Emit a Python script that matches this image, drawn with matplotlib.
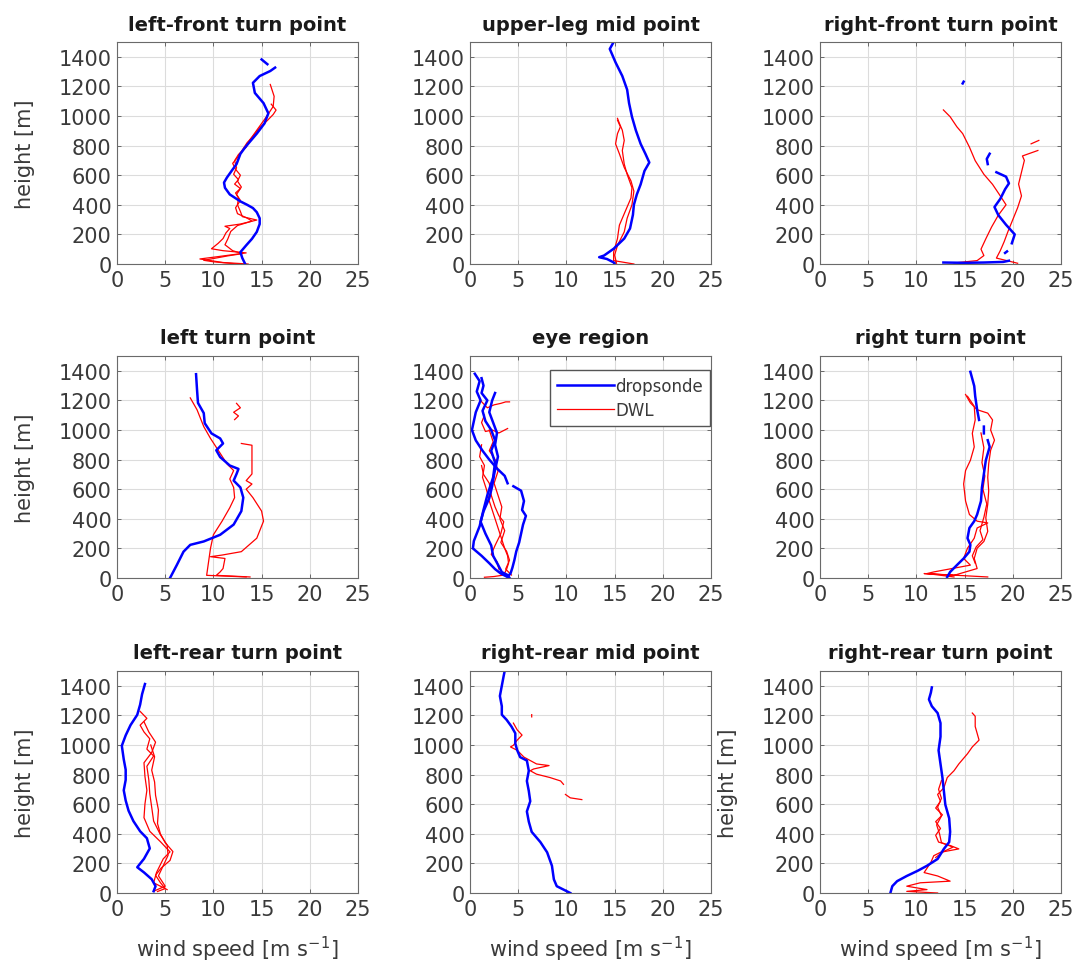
import numpy as np
import matplotlib.pyplot as plt

plt.rcParams["font.family"] = ["DejaVu Sans"]

# wind speed [m/s], height [m]; None breaks a profile into separate pieces
TITLES = [
    "left-front turn point", "upper-leg mid point", "right-front turn point",
    "left turn point", "eye region", "right turn point",
    "left-rear turn point", "right-rear mid point", "right-rear turn point",
]

# left-front turn point
lf_sonde = [(13.3, 0), (13.0, 40), (12.8, 80), (13.4, 126), (14.0, 170), (14.5, 217),
            (14.8, 270), (14.8, 309), (14.5, 350), (14.1, 378), (13.5, 400), (12.8, 423),
            (11.7, 470), (11.2, 515), (11.1, 550), (11.4, 584), (11.9, 630), (12.4, 675),
            (12.8, 744), (13.2, 780), (13.6, 812), (14.5, 881), (15.3, 950), (15.7, 1018),
            (15.2, 1087), (14.3, 1156), (14.1, 1224), (14.8, 1270), (15.9, 1304), (16.4, 1327),
            None, (15.6, 1350), (15.0, 1382)]
lf_dwl_a = [(13.6, 0), (11.0, 10), (8.6, 34), (10.5, 50), (13.4, 75), (11.0, 90), (9.8, 103),
            (10.5, 140), (11.0, 172), (11.3, 210), (11.7, 240), (11.2, 255), (12.8, 270),
            (14.5, 297), (13.0, 320), (12.8, 355), (12.5, 400), (12.6, 446), (12.3, 480),
            (12.8, 510), (12.2, 540), (12.6, 570), (12.1, 606), (12.4, 650), (12.2, 698),
            (12.6, 740), (13.4, 790), (13.8, 840), (14.5, 904), (15.5, 995), (16.2, 1064),
            (16.3, 1133), (15.9, 1213)]
lf_dwl_b = [(12.5, 0), (10.0, 15), (9.0, 25), (11.5, 55), (13.0, 70), (12.0, 90), (11.2, 130),
            (11.5, 170), (11.8, 220), (12.5, 260), (14.0, 290), (13.5, 310), (12.5, 340),
            (12.3, 380), (12.8, 430), (12.4, 470), (12.9, 520), (12.5, 560), (12.8, 600),
            (12.3, 640), (12.0, 680), (12.5, 720), (13.0, 770), (13.5, 820), (14.2, 870),
            (14.8, 920), (15.6, 970), (16.2, 1010), (16.5, 1040), (16.0, 1080)]

# upper-leg mid point
ul_sonde = [(15.0, 0), (14.9, 11), (14.2, 34), (13.4, 46), (13.9, 57), (14.9, 103), (16.0, 172),
            (16.6, 240), (16.9, 332), (17.0, 400), (17.3, 469), (17.7, 538), (18.1, 629),
            (18.6, 686), (18.2, 744), (17.7, 812), (17.2, 904), (16.8, 995), (16.5, 1087),
            (16.3, 1178), (15.8, 1270), (15.1, 1362), (14.5, 1453), (14.9, 1500)]
ul_dwl_a = [(17.0, 0), (14.9, 23), (14.9, 80), (15.3, 172), (15.4, 220), (15.5, 263), (16.1, 355),
            (16.7, 446), (16.8, 515), (16.3, 606), (16.0, 675), (15.8, 767), (16.0, 835),
            (15.8, 904), (15.5, 950), (15.3, 984)]
ul_dwl_b = [(15.2, 5), (15.0, 60), (15.3, 126), (16.0, 217), (16.3, 309), (16.8, 400),
            (17.0, 492), (16.7, 561), (16.0, 652), (15.5, 744), (15.1, 812), (15.3, 881),
            (15.6, 927), (15.3, 972)]

# right-front turn point
rf_sonde = [(14.8, 1220), (14.9, 1232), None, (17.6, 745), (17.3, 710), (17.4, 675), None,
            (18.3, 620), (19.3, 590), (19.6, 545), (19.2, 505), (18.7, 440), (18.1, 385),
            (18.5, 330), (19.3, 265), (20.2, 200), (19.9, 140), None, (19.4, 85), (19.2, 75),
            None, (12.8, 10), (15.0, 8), (17.0, 10), (19.0, 14), (19.6, 22)]
rf_dwl_a = [(12.8, 1041), (13.5, 995), (14.2, 927), (14.8, 881), (15.5, 790), (16.1, 698),
            (17.0, 606), (17.9, 538), (18.6, 470), (19.3, 400), (18.5, 330), (17.8, 250),
            (17.2, 170), (16.7, 100), (17.0, 57), (16.3, 23), (13.9, 7)]
rf_dwl_b = [(21.9, 812), (22.7, 835), None, (22.6, 767), (21.0, 730), (21.2, 700), (20.9, 620),
            (20.6, 540), (20.9, 460), (20.5, 380), (20.0, 300), (19.5, 220), (19.1, 150),
            (18.7, 90), (18.3, 40), (20.5, 5)]

# left turn point
lt_sonde = [(5.5, 0), (6.2, 87), (6.9, 178), (7.6, 224), (9.0, 247), (10.7, 292), (12.1, 361),
            (12.9, 452), (13.1, 543), (12.8, 612), (12.1, 658), (12.4, 703), (12.6, 737),
            (11.7, 760), (10.7, 817), (10.3, 863), (11.0, 909), (10.7, 943), (9.8, 977),
            (9.1, 1046), (9.0, 1114), (8.4, 1183), (8.3, 1274), (8.2, 1377)]
lt_dwl_a = [(7.6, 1217), (8.3, 1137), (9.0, 1023), (9.7, 943), (10.5, 863), (11.4, 772),
            (12.1, 726), (11.7, 669), (12.1, 612), (12.2, 543), (11.7, 475), (10.9, 384),
            (10.0, 292), (9.7, 201), (9.5, 110), (9.3, 18), (13.4, 7)]
lt_dwl_b = [(12.9, 909), (14.0, 897), (14.0, 795), (14.0, 703), (13.4, 658), (14.0, 635),
            (13.4, 600), (14.1, 543), (15.0, 452), (15.2, 384), (14.5, 269), (12.9, 178),
            (10.9, 155), (9.7, 144), (11.2, 132), (11.0, 64), (10.7, 41), (10.3, 18), (13.8, 7)]
lt_dwl_c = [(12.4, 1180), (12.8, 1150), (12.1, 1120), (12.6, 1095), (12.2, 1070)]

# eye region
ey_sonde_a = [(0.5, 1380), (1.0, 1330), (0.7, 1260), (1.1, 1200), (0.6, 1120), (0.2, 1000),
              (0.6, 930), (1.3, 860), (2.0, 800), (2.8, 740), (3.6, 690), (3.9, 640)]
ey_sonde_b = [(1.2, 1350), (1.4, 1300), (1.2, 1250), (1.8, 1200), (1.3, 1130), (1.6, 1060),
              (2.2, 1000), (2.6, 930), (2.2, 860), (2.6, 780), (2.4, 680), (1.8, 560),
              (1.4, 460), (1.0, 350), (0.4, 250), (0.3, 200), (1.2, 150), (2.0, 100),
              (2.6, 60), (3.2, 30), (3.8, 10)]
ey_sonde_c = [(2.6, 1250), (2.3, 1200), (2.0, 1120), (2.4, 1050), (2.8, 980), (2.6, 900),
              (2.9, 820), (2.5, 700), (2.3, 620), (2.0, 540), (1.4, 450), (1.1, 380),
              (1.6, 300), (2.2, 220), (2.4, 150), (2.9, 90), (3.3, 40), (3.9, 20), (4.1, 0)]
ey_sonde_d = [(4.5, 620), (5.3, 590), (5.6, 520), (5.4, 460), (5.8, 420), (5.5, 360),
              (5.3, 300), (5.1, 240), (4.8, 180), (4.6, 120), (4.4, 70), (4.2, 30), (3.9, 10)]
ey_dwl_a = [(1.0, 1205), (1.8, 1150), (2.5, 1170), (3.2, 1180), (3.7, 1190), (4.1, 1190)]
ey_dwl_b = [(1.5, 1100), (1.2, 1050), (1.6, 990), (2.3, 1000), (3.0, 980), (3.6, 1000),
            (3.9, 1010)]
ey_dwl_c = [(1.2, 900), (1.0, 820), (1.5, 760), (1.3, 680), (1.7, 600), (2.0, 520), (2.4, 440),
            (2.7, 380), (3.0, 320), (3.3, 260), (3.6, 200), (3.9, 150), (4.0, 100),
            (3.8, 60), (3.5, 20), (2.5, 10), (1.5, 5)]
ey_dwl_d = [(2.0, 1000), (2.4, 920), (2.0, 860), (2.6, 800), (2.9, 720), (2.5, 640),
            (2.9, 560), (3.3, 480), (3.1, 400), (3.6, 320), (3.2, 240), (3.8, 180),
            (4.1, 120), (3.7, 60), (4.3, 20)]
ey_dwl_e = [(1.2, 760), (1.4, 700), (2.0, 640), (2.2, 560), (2.6, 480), (3.0, 420), (3.5, 380),
            (3.2, 300), (2.6, 220), (2.2, 160), (2.8, 110), (3.0, 60)]

# right turn point
rt_sonde = [(15.6, 1393), (16.0, 1297), (16.1, 1228), (16.3, 1137), (16.5, 1068), None,
            (17.0, 1023), (17.0, 977), None, (17.4, 931), (17.6, 886), (17.2, 795),
            (17.0, 703), (16.8, 612), (16.7, 520), (16.3, 429), (16.0, 384), (15.5, 338),
            (15.3, 269), (15.6, 224), (15.5, 178), (14.9, 132), (14.2, 87), (13.5, 41),
            (13.2, 7)]
rt_dwl_a = [(15.1, 1240), (15.6, 1183), (16.3, 1137), (17.4, 1114), (17.9, 1068), (17.7, 1000),
            (18.1, 931), (17.7, 863), (17.5, 772), (17.4, 680), (17.5, 589), (17.4, 498),
            (17.2, 406), (17.4, 315), (17.0, 247), (16.3, 201), (16.0, 132), (16.3, 64),
            (13.9, 18), (10.8, 30), (17.4, 7)]
rt_dwl_b = [(15.3, 1228), (16.0, 1160), (16.1, 1068), (15.8, 977), (16.0, 886), (15.6, 795),
            (15.1, 726), (14.9, 635), (15.1, 520), (15.5, 429), (16.3, 384), (17.4, 372),
            (16.3, 338), (16.0, 269), (15.3, 201), (14.9, 132), (15.6, 87), (11.8, 41),
            (11.1, 30), (13.9, 7)]
rt_dwl_c = [(16.7, 980), (17.0, 880), (16.8, 780), (17.1, 690), (16.9, 600), (17.3, 500),
            (17.0, 410), (16.6, 320), (16.9, 260), (16.2, 210), (15.8, 150), (16.1, 100)]

# left-rear turn point
lr_sonde = [(2.9, 1412), (2.6, 1343), (2.4, 1273), (2.1, 1204), (1.4, 1134), (0.9, 1065),
            (0.5, 995), (0.7, 903), (0.9, 833), (0.9, 764), (0.7, 694), (0.9, 625),
            (1.2, 556), (1.7, 486), (2.4, 417), (3.1, 370), (3.4, 301), (2.8, 231),
            (2.1, 174), (2.8, 139), (3.6, 93), (4.0, 46), (3.8, 12)]
lr_dwl_a = [(2.4, 1227), (3.1, 1180), (2.4, 1134), (2.8, 1088), (3.4, 1042), (3.1, 972),
            (3.8, 926), (3.1, 856), (3.3, 764), (3.4, 671), (3.6, 579), (3.8, 486),
            (4.5, 394), (5.2, 324), (5.3, 255), (4.8, 185), (4.3, 116), (5.0, 46), (3.8, 12)]
lr_dwl_b = [(2.8, 1157), (3.3, 1088), (4.0, 1019), (3.6, 949), (2.8, 880), (2.9, 787),
            (3.1, 694), (2.9, 602), (2.8, 509), (3.4, 417), (4.5, 347), (5.5, 278),
            (4.8, 231), (4.1, 139), (3.8, 69), (5.2, 23)]
lr_dwl_c = [(3.5, 1000), (3.9, 920), (3.6, 830), (3.9, 750), (4.0, 660), (4.3, 560),
            (4.2, 470), (4.5, 400), (5.0, 340), (5.8, 280), (5.5, 220), (4.6, 170),
            (4.0, 120), (4.5, 70), (5.0, 30), (4.2, 10)]

# right-rear mid point
rm_sonde = [(10.4, 0), (9.7, 23), (9.0, 46), (8.7, 92), (8.5, 184), (8.0, 275), (7.3, 344),
            (6.4, 413), (6.1, 482), (5.9, 551), (6.25, 620), (6.1, 689), (5.9, 757),
            (6.1, 826), (5.9, 895), (5.2, 918), (4.9, 964), (4.7, 1010), (4.7, 1079),
            (4.3, 1125), (3.8, 1170), (3.3, 1205), (3.3, 1262), (3.1, 1331), (3.3, 1400),
            (3.5, 1469), (3.6, 1500)]
rm_dwl_a = [(4.5, 1148), (4.9, 1102), (5.4, 1067), (4.9, 1033), (4.5, 998), (4.2, 987),
            (4.9, 964), (5.6, 918), (6.25, 895), (6.9, 872), (8.2, 861), (6.6, 838),
            (6.25, 826), (6.9, 803), (8.3, 780), (9.4, 757), (9.7, 734)]
rm_dwl_b = [(9.9, 666), (10.4, 643), (11.6, 631), None, (6.4, 1205), (6.4, 1190)]

# right-rear turn point
rr_sonde = [(7.3, 0), (7.5, 46), (8.0, 80), (9.0, 115), (10.1, 149), (11.1, 184), (12.2, 230),
            (12.85, 298), (13.4, 344), (13.5, 413), (13.4, 505), (13.0, 597), (12.85, 689),
            (12.7, 780), (12.5, 872), (12.3, 964), (12.5, 1056), (12.5, 1148), (12.2, 1216),
            (11.6, 1262), (11.3, 1308), (11.5, 1354), (11.6, 1389)]
rr_dwl_a = [(15.8, 1216), (16.1, 1194), (16.1, 1125), (16.3, 1079), (16.5, 1033), (15.8, 987),
            (15.3, 941), (14.4, 872), (13.9, 826), (13.2, 780), (12.85, 711), (12.2, 666),
            (12.5, 620), (12.0, 574), (12.7, 528), (12.0, 482), (12.5, 436), (12.0, 390),
            (12.3, 344), (13.5, 321), (14.4, 298), (12.5, 275), (11.8, 252), (11.5, 207),
            (10.8, 138), (12.2, 115), (13.5, 80), (10.4, 69), (9.0, 46), (11.1, 23),
            (9.0, 11), (12.2, 0)]
rr_dwl_b = [(12.6, 760), (12.3, 700), (12.6, 640), (12.2, 580), (12.6, 520), (12.1, 460),
            (12.4, 400), (12.6, 340), (13.8, 310), (12.8, 280), (12.0, 240)]

SONDES = [[lf_sonde], [ul_sonde], [rf_sonde],
          [lt_sonde], [ey_sonde_a, ey_sonde_b, ey_sonde_c, ey_sonde_d], [rt_sonde],
          [lr_sonde], [rm_sonde], [rr_sonde]]
DWLS = [[lf_dwl_a, lf_dwl_b], [ul_dwl_a, ul_dwl_b], [rf_dwl_a, rf_dwl_b],
        [lt_dwl_a, lt_dwl_b, lt_dwl_c], [ey_dwl_a, ey_dwl_b, ey_dwl_c, ey_dwl_d, ey_dwl_e],
        [rt_dwl_a, rt_dwl_b, rt_dwl_c],
        [lr_dwl_a, lr_dwl_b, lr_dwl_c], [rm_dwl_a, rm_dwl_b], [rr_dwl_a, rr_dwl_b]]


def profile(points):
    """Turn a list of (speed, height) pairs into arrays, None -> gap."""
    u = [np.nan if p is None else p[0] for p in points]
    z = [np.nan if p is None else p[1] for p in points]
    return np.array(u), np.array(z)


TEXT = "#3a3a3a"
fig = plt.figure(figsize=(10.78, 9.7), dpi=100)
lefts = [117 / 1078, 470 / 1078, 820 / 1078]
bottoms = [705 / 970, 391 / 970, 76 / 970]
width, height = 241 / 1078, 222 / 970

for k, title in enumerate(TITLES):
    row, col = divmod(k, 3)
    ax = fig.add_axes([lefts[col], bottoms[row], width, height])
    for prof in DWLS[k]:
        u, z = profile(prof)
        ax.plot(u, z, color="red", lw=0.9, label="DWL")
    for prof in SONDES[k]:
        u, z = profile(prof)
        ax.plot(u, z, color="blue", lw=1.8, label="dropsonde")
    ax.set_xlim(0, 25)
    ax.set_ylim(0, 1500)
    ax.set_xticks(np.arange(0, 26, 5))
    ax.set_yticks(np.arange(0, 1401, 200))
    ax.grid(True, color="#dcdcdc", lw=0.8)
    ax.set_axisbelow(True)
    ax.tick_params(direction="in", top=True, right=True, length=3, width=0.6,
                   color="#555555", labelsize=15, labelcolor=TEXT, pad=4)
    for s in ax.spines.values():
        s.set_color("#6a6a6a")
        s.set_linewidth(0.8)
    ax.set_title(title, fontsize=14, fontweight="bold", color="#1a1a1a", pad=9)
    if col == 0 or k == 8:
        ax.set_ylabel("height [m]", fontsize=15, color=TEXT, labelpad=17)
    if row == 2:
        ax.set_xlabel("wind speed [m s$^{-1}$]", fontsize=15, color=TEXT, labelpad=11)
    if k == 4:
        h, l = ax.get_legend_handles_labels()
        leg = ax.legend([h[-1], h[0]], ["dropsonde", "DWL"], loc="upper right",
                        bbox_to_anchor=(0.995, 0.935), borderaxespad=0, fontsize=12,
                        fancybox=False, framealpha=1, edgecolor="#555555",
                        handlelength=3.4, handletextpad=0.1, labelspacing=0.35,
                        borderpad=0.4)
        for t in leg.get_texts():
            t.set_color(TEXT)

fig.savefig("out.png", dpi=100)
